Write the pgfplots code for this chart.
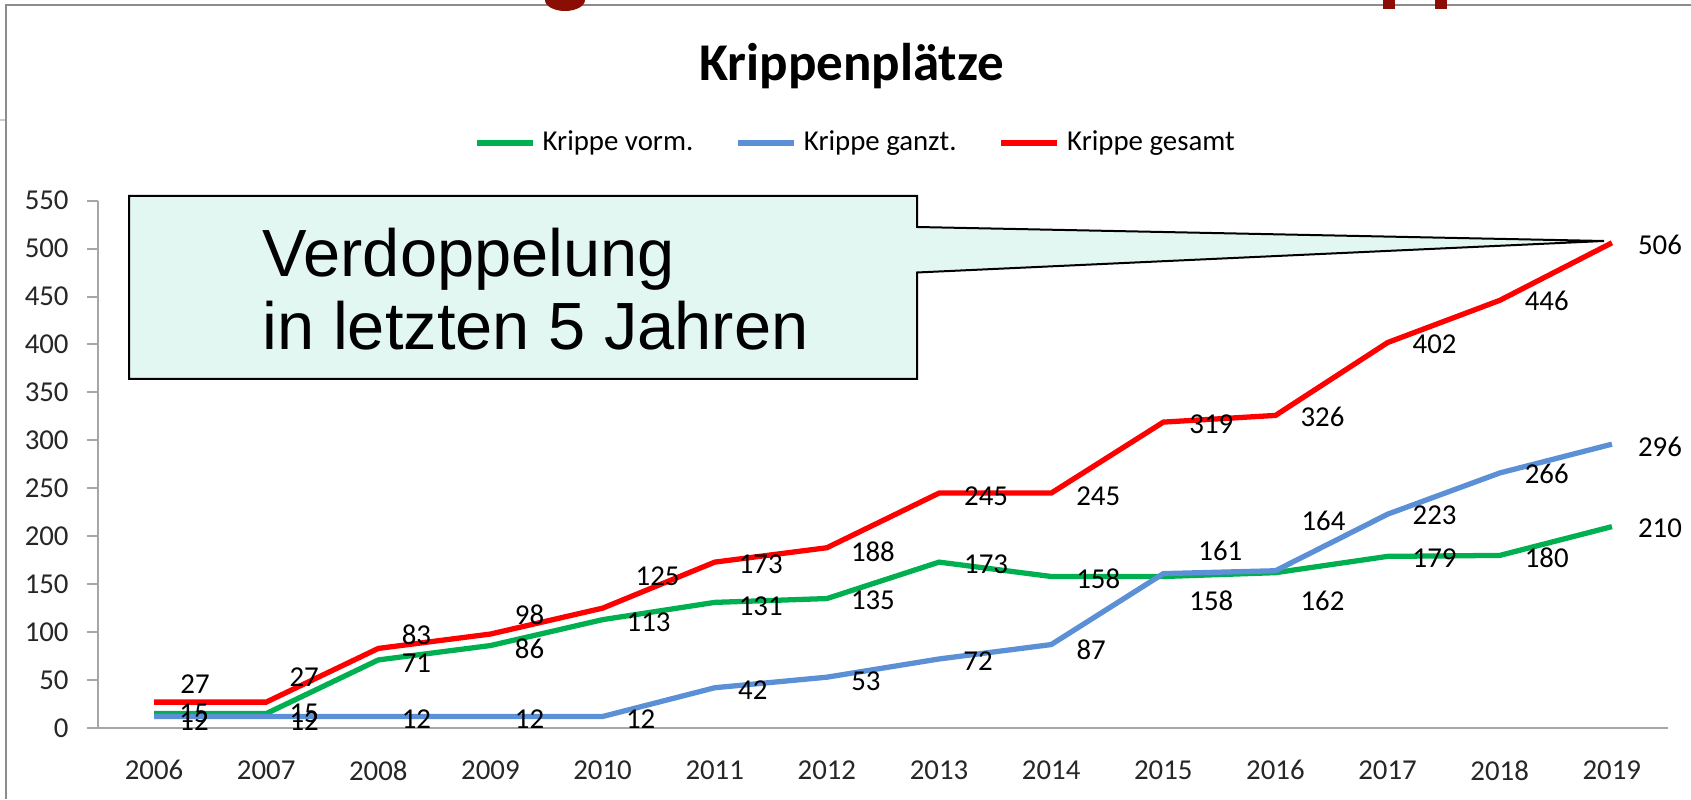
\documentclass[border=0pt]{standalone}
\usepackage{fontspec}
\setmainfont{Carlito}
\newfontfamily\calloutfont{Liberation Sans}
\usepackage{pgfplots}
\pgfplotsset{compat=1.18}
\usepackage{pgfplotstable}

\definecolor{cgreen}{HTML}{00B050}
\definecolor{cblue}{HTML}{5B8FD6}
\definecolor{cred}{HTML}{FF0000}
\definecolor{axgray}{HTML}{A6A6A6}
\definecolor{framegray}{HTML}{8C8C8C}
\definecolor{darkred}{HTML}{8B0E04}
\definecolor{callfill}{HTML}{E3F7F2}

% x = year, y = value, dx/dy = label offset (0.1 mm, dy downward)
\pgfplotstableread{
x y dx dy
2006 15 40 0
2007 15 38 0
2008 71 38 3
2009 86 39 3
2010 113 46 3
2011 131 46 4
2012 135 46 2
2013 173 47 2
2014 158 47 2
2015 158 48 24
2016 162 47 28
2017 179 47 2
2018 180 47 2
2019 210 48 2
}\vorm

\pgfplotstableread{
x y dx dy
2006 12 40 5
2007 12 38 5
2008 12 38 3
2009 12 39 3
2010 12 38 3
2011 42 38 2
2012 53 39 4
2013 72 39 2
2014 87 40 5
2015 161 57 -23
2016 164 48 -50
2017 223 47 1
2018 266 47 1
2019 296 48 3
}\ganzt

\pgfplotstableread{
x y dx dy
2006 27 41 -18
2007 27 38 -25
2008 83 38 -14
2009 98 39 -19
2010 125 55 -32
2011 173 46 2
2012 188 46 4
2013 245 47 3
2014 245 47 3
2015 319 48 2
2016 326 47 1
2017 402 47 2
2018 446 47 1
2019 506 48 2
}\gesamt

\pgfplotsset{/pgf/number format/assume math mode=true}

\pgfplotsset{
  lbl/.style={
    nodes near coords,
    visualization depends on={\thisrow{dx}\as\dx},
    visualization depends on={\thisrow{dy}\as\dy},
    every node near coord/.style={anchor=center, inner sep=0pt,
      xshift={0.1mm*\dx}, yshift={-0.1mm*\dy},
      font=\fontsize{8.2}{10}\selectfont, text=black},
  },
}

\begin{document}
\begin{tikzpicture}[x=0.1mm,y=0.1mm]
\path[use as bounding box] (0,0) rectangle (1691,799);

% frame
\draw[framegray, line width=0.25mm] (6,0) -- (6,794) -- (1691,794);
\draw[black!20, line width=0.2mm] (0,679) -- (5,679);
\begin{scope}
\clip (0,0) rectangle (1691,799);
\fill[darkred] (565,799) ellipse [x radius=20, y radius=11];
\fill[darkred] (1383,790) rectangle (1395,799);
\fill[darkred] (1435,790) rectangle (1447,799);
\end{scope}

\begin{axis}[
  at={(9.8mm,7.1mm)}, anchor=south west,
  width=157mm, height=52.74mm, scale only axis,
  xmin=2005.5, xmax=2019.5, ymin=0, ymax=550,
  xtick={2006,...,2019}, ytick={0,50,...,550},
  /pgf/number format/1000 sep={},
  axis x line=bottom, axis y line=left,
  axis line style={axgray, line width=0.2mm, -},
  xtick style={draw=none},
  ytick style={axgray, line width=0.2mm},
  tick align=outside, major tick length=1.1mm,
  ticklabel style={font=\fontsize{8.2}{10}\selectfont, text=black!85},
  yticklabel style={xshift=-0.6mm},
  xticklabel style={yshift=-0.9mm},
  clip=false,
  title={Krippenplätze},
  title style={font=\bfseries\fontsize{15.1}{17}\selectfont,
    at={(axis description cs:0.480,1.215)}, anchor=center},
  legend style={at={(axis description cs:0.484,1.109)}, anchor=center,
    draw=none, fill=none, font=\fontsize{8.2}{10}\selectfont,
    /tikz/every even column/.append style={column sep=3.5mm},
    inner sep=0pt},
  legend columns=3,
  legend image code/.code={\draw[#1, line width=1.6pt] (0mm,0mm) -- (5.6mm,0mm);},
]
\addplot[cgreen, line width=1.5pt, lbl] table[x=x,y=y] {\vorm};
\addlegendentry{Krippe vorm.}
\addplot[cblue, line width=1.5pt, lbl] table[x=x,y=y] {\ganzt};
\addlegendentry{Krippe ganzt.}
\addplot[cred, line width=1.5pt, lbl] table[x=x,y=y] {\gesamt};
\addlegendentry{Krippe gesamt}
\end{axis}

% callout
\draw[black, line width=0.2mm, fill=callfill]
  (129,603) -- (917,603) -- (917,572) -- (1604,558) -- (917,526.5)
  -- (917,420) -- (129,420) -- cycle;
\node[anchor=base west, inner sep=0pt, font=\calloutfont\fontsize{19}{21.5}\selectfont]
  at (262,522) {Verdoppelung};
\node[anchor=base west, inner sep=0pt, font=\calloutfont\fontsize{19}{21.5}\selectfont]
  at (262,449) {in letzten 5 Jahren};
\end{tikzpicture}
\end{document}
